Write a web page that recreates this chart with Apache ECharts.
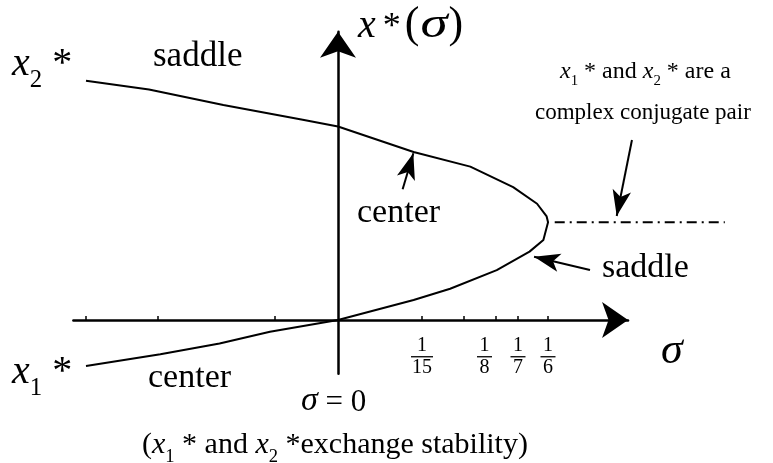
<!DOCTYPE html>
<html>
<head>
<meta charset="utf-8">
<script src="https://cdn.jsdelivr.net/npm/echarts@6/dist/echarts.min.js"></script>
<style>
  html, body { margin: 0; padding: 0; background: #fff; }
  #chart { width: 773px; height: 463px; }
</style>
</head>
<body>
<div id="chart"></div>
<script>
// Equilibrium branches x*(σ): from the upper-left end (x2*), round the fold at σ = 1/6,
// back to the lower-left end (x1*).
const branchSigma = [-0.200, -0.150, -0.091, -0.028, 0, 0.060, 0.105, 0.139, 0.158, 0.1656, 0.1667,
                     0.163, 0.152, 0.126, 0.089, 0.060, 0, -0.054, -0.094, -0.141, -0.200];
const branchX     = [2.45, 2.36, 2.20, 2.05, 1.98, 1.72, 1.57, 1.36, 1.19, 1.06, 1.00,
                     0.82, 0.70, 0.51, 0.32, 0.205, 0, -0.12, -0.24, -0.35, -0.47];

// Past the fold the roots form a complex pair; the dash-dot line marks their real part.
const complexSigma = [0.172, 0.307];
const complexX     = [1, 1];

// Tick marks on the σ axis and the fractions written under some of them
const tickValues       = [-0.2, -1 / 7, -0.05, 1 / 15, 0.1, 1 / 8, 1 / 7, 1 / 6];
const fracLabelValues  = [1 / 15, 1 / 8, 1 / 7, 1 / 6];
const fracLabelDen     = ['15', '8', '7', '6'];

// Pointer arrows (tail σ, tail x*, head σ, head x*)
const pointerTailSigma = [0.0513, 0.200, 0.2333];
const pointerTailX     = [1.338, 0.512, 1.842];
const pointerHeadSigma = [0.0598, 0.1556, 0.2212];
const pointerHeadX     = [1.706, 0.648, 1.064];

const SERIF = '"Liberation Serif", "Times New Roman", serif';
const INK = '#000';

// Lays out a run of text pieces on a common baseline
// (italic, subscript and horizontally widened pieces supported)
const measureCtx = document.createElement('canvas').getContext('2d');
function textRun(x0, baseline, size, parts) {
  const out = [];
  let x = x0;
  parts.forEach(p => {
    const sz = p.sub ? size * 0.62 : size * (p.k || 1);
    const sx = p.sx || 1;
    const font = (p.it ? 'italic ' : '') + sz + 'px ' + SERIF;
    measureCtx.font = font;
    measureCtx.textBaseline = 'alphabetic';
    const m = measureCtx.measureText(p.t);
    const mid = (m.fontBoundingBoxAscent - m.fontBoundingBoxDescent) / 2;
    const bl = baseline + (p.sub ? size * 0.27 : 0) + (p.dy || 0);
    x += (p.dx || 0);
    out.push({
      type: 'text', x: x, y: bl - mid, scaleX: sx, silent: true,
      style: {
        text: p.t, font: font, fill: INK,
        align: 'left', textAlign: 'left',
        verticalAlign: 'middle', textVerticalAlign: 'middle'
      }
    });
    x += m.width * sx;
  });
  return out;
}

const labels = [].concat(
  textRun(12, 78, 40, [{ t: 'x', it: 1 }, { t: '2', sub: 1 }, { t: ' *' }]),
  textRun(12, 386, 40, [{ t: 'x', it: 1 }, { t: '1', sub: 1 }, { t: ' *' }]),
  textRun(153, 68, 35, [{ t: 'saddle' }]),
  textRun(357, 225, 34, [{ t: 'center' }]),
  textRun(148, 390, 34, [{ t: 'center' }]),
  textRun(602, 280, 34, [{ t: 'saddle' }]),
  textRun(358, 40, 40, [{ t: 'x', it: 1 }, { t: '*', k: 0.9, dx: 7 }, { t: '(', k: 1.1, dx: 4 }, { t: 'σ', it: 1, k: 1.1, sx: 1.25, dx: 1 }, { t: ')', k: 1.1, dx: 1 }]),
  textRun(661, 366, 44, [{ t: 'σ', it: 1 }]),
  textRun(301, 413, 31, [{ t: 'σ', it: 1, k: 1.1 }, { t: ' = 0' }]),
  textRun(560, 80, 24, [{ t: 'x', it: 1 }, { t: '1', sub: 1 }, { t: ' * and ' }, { t: 'x', it: 1 }, { t: '2', sub: 1 }, { t: ' * are a' }]),
  textRun(535, 120, 23, [{ t: 'complex conjugate pair' }]),
  textRun(142, 456, 30, [{ t: '(' }, { t: 'x', it: 1 }, { t: '1', sub: 1 }, { t: ' * and ' }, { t: 'x', it: 1 }, { t: '2', sub: 1 }, { t: ' *exchange stability)' }])
);

// Two grids share the same scale: grid 0 carries the drawn axes, grid 1 is wider so
// marks right of the σ arrow are not clipped.
const X_MIN = -0.21, X_MAX = 0.2302, X_MAX_WIDE = 0.345;
const Y_MIN = -0.55, Y_MAX = 2.951;
const PX_PER_SIGMA = 1260, PX_PER_X = 97.7;
const GRID_LEFT = 73.4, GRID_TOP = 31.7;
const gridH = (Y_MAX - Y_MIN) * PX_PER_X;

const chart = echarts.init(document.getElementById('chart'), null, { renderer: 'canvas' });

const barStyle = { height: 1.3, lineHeight: 4, backgroundColor: INK, fontSize: 1 };
const fracRich = {
  num:  { fontFamily: SERIF, fontSize: 20, lineHeight: 17, color: INK },
  den:  { fontFamily: SERIF, fontSize: 20, lineHeight: 19, color: INK },
  barw: Object.assign({ width: 22 }, barStyle),
  barn: Object.assign({ width: 15 }, barStyle),
  // blank spacer that nudges the 1/8 label left of its tick
  gap:  { width: 22, fontSize: 1, lineHeight: 4 }
};

chart.setOption({
  animation: false,
  backgroundColor: '#fff',
  grid: [
    { left: GRID_LEFT, top: GRID_TOP, width: (X_MAX - X_MIN) * PX_PER_SIGMA, height: gridH, outerBoundsMode: 'none', containLabel: false },
    { left: GRID_LEFT, top: GRID_TOP, width: (X_MAX_WIDE - X_MIN) * PX_PER_SIGMA, height: gridH, outerBoundsMode: 'none', containLabel: false }
  ],
  xAxis: [
    {
      type: 'value', gridIndex: 0, min: X_MIN, max: X_MAX,
      splitLine: { show: false },
      axisLine: {
        show: true, onZero: true, symbol: ['none', 'arrow'], symbolSize: [27, 26],
        lineStyle: { color: INK, width: 2.5 }
      },
      axisTick: { show: true, inside: true, length: 4, customValues: tickValues, lineStyle: { color: INK, width: 1.5 } },
      axisLabel: {
        show: true, margin: -36, customValues: fracLabelValues, color: INK,
        formatter: v => {
          const i = fracLabelValues.findIndex(f => Math.abs(f - v) < 1e-6);
          const d = fracLabelDen[i];
          const g = d === '8' ? '{gap| }' : '';
          return '{num|1}' + g + '\n{' + (d.length > 1 ? 'barw' : 'barn') + '| }' + g + '\n{den|' + d + '}' + g;
        },
        rich: fracRich
      }
    },
    { type: 'value', gridIndex: 1, min: X_MIN, max: X_MAX_WIDE, show: false, splitLine: { show: false } }
  ],
  yAxis: [
    {
      type: 'value', gridIndex: 0, min: Y_MIN, max: Y_MAX,
      splitLine: { show: false },
      axisLine: {
        show: true, onZero: true, symbol: ['none', 'arrow'], symbolSize: [27, 26],
        lineStyle: { color: INK, width: 2.5 }
      },
      axisTick: { show: false },
      axisLabel: { show: false }
    },
    { type: 'value', gridIndex: 1, min: Y_MIN, max: Y_MAX, show: false, splitLine: { show: false } }
  ],
  series: [
    {
      name: 'x*(σ)', type: 'line', xAxisIndex: 0, yAxisIndex: 0,
      data: branchSigma.map((s, i) => [s, branchX[i]]),
      showSymbol: false, symbol: 'none', clip: false, silent: true,
      lineStyle: { color: INK, width: 2 }
    },
    {
      name: 'complex pair', type: 'line', xAxisIndex: 1, yAxisIndex: 1,
      data: complexSigma.map((s, i) => [s, complexX[i]]),
      showSymbol: false, symbol: 'none', clip: false, silent: true,
      lineStyle: { color: INK, width: 2, type: [10, 5, 2, 5] },
      markLine: {
        silent: true, symbol: ['none', 'arrow'], symbolSize: [14, 26],
        label: { show: false }, emphasis: { disabled: true },
        lineStyle: { color: INK, width: 2, type: 'solid' },
        data: pointerTailSigma.map((s, i) => [
          { coord: [s, pointerTailX[i]] },
          { coord: [pointerHeadSigma[i], pointerHeadX[i]] }
        ])
      }
    }
  ],
  graphic: { elements: labels }
});
</script>
</body>
</html>
